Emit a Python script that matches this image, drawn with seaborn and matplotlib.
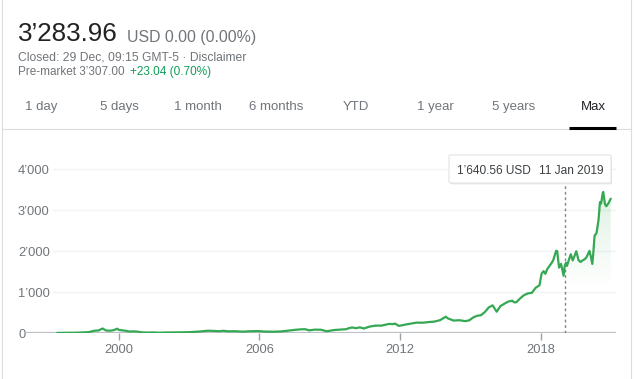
import matplotlib
matplotlib.use("Agg")
import matplotlib.pyplot as plt
import matplotlib.dates as mdates
from matplotlib.patches import FancyBboxPatch
from matplotlib.lines import Line2D
import numpy as np
import pandas as pd
import seaborn as sns

# ---------------- data ----------------
dates = [
    "1997-05-15", "1997-08-15", "1997-12-15", "1998-03-15", "1998-06-15", "1998-09-15",
    "1998-12-15", "1999-01-15", "1999-02-15", "1999-04-25", "1999-06-15", "1999-08-15",
    "1999-10-15", "1999-12-10", "1999-12-31", "2000-02-15", "2000-04-15", "2000-06-15",
    "2000-08-15", "2000-10-15", "2000-12-15", "2001-03-15", "2001-06-15", "2001-09-15",
    "2001-12-15", "2002-06-15", "2002-12-15", "2003-06-15", "2003-10-15", "2003-12-15",
    "2004-04-15", "2004-06-15", "2004-09-15", "2004-12-15", "2005-04-15", "2005-08-15",
    "2005-12-15", "2006-03-15", "2006-08-15", "2006-12-15", "2007-04-15", "2007-07-15",
    "2007-10-15", "2007-12-15", "2008-02-15", "2008-05-15", "2008-08-15", "2008-11-15",
    "2008-12-15", "2009-03-15", "2009-06-15", "2009-09-15", "2009-10-25", "2009-12-15",
    "2010-02-15", "2010-04-15", "2010-06-15", "2010-09-15", "2010-12-15", "2011-03-15",
    "2011-07-15", "2011-09-15", "2011-10-15", "2011-12-15", "2012-03-15", "2012-06-15",
    "2012-09-15", "2012-12-15", "2013-03-15", "2013-06-15", "2013-09-15", "2013-12-15",
    "2014-01-15", "2014-04-15", "2014-07-15", "2014-10-15", "2014-12-15", "2015-02-15",
    "2015-04-15", "2015-06-15", "2015-08-15", "2015-10-15", "2015-12-15", "2016-02-15",
    "2016-04-15", "2016-06-15", "2016-08-15", "2016-10-15", "2016-11-15", "2016-12-15",
    "2017-02-15", "2017-04-15", "2017-06-15", "2017-08-15", "2017-10-15", "2017-12-15",
    "2018-01-15", "2018-02-15", "2018-03-15", "2018-04-15", "2018-05-15", "2018-06-15",
    "2018-07-15", "2018-08-31", "2018-09-15", "2018-10-15", "2018-11-15", "2018-12-24",
    "2019-01-11", "2019-01-31", "2019-02-15", "2019-03-15", "2019-04-15", "2019-05-15",
    "2019-06-15", "2019-07-10", "2019-08-15", "2019-09-15", "2019-10-15", "2019-11-15",
    "2019-12-15", "2020-01-31", "2020-02-20", "2020-03-16", "2020-03-31", "2020-04-20",
    "2020-05-20", "2020-06-20", "2020-07-13", "2020-07-31", "2020-08-25", "2020-09-02",
    "2020-09-30", "2020-10-20", "2020-11-20", "2020-12-29",
]
prices = [
    1.5, 3.5, 5, 7, 14, 20,
    54, 60, 60, 110, 62, 55,
    70, 106, 76, 68, 55, 36,
    40, 34, 16, 10, 14, 6,
    11, 16, 19, 36, 55, 53,
    44, 54, 40, 44, 33, 43,
    47, 36, 31, 39, 62, 78,
    90, 93, 65, 82, 80, 43,
    51, 73, 84, 93, 118, 135,
    118, 138, 109, 157, 180, 180,
    222, 216, 230, 173, 203, 228,
    254, 251, 266, 278, 313, 399,
    358, 304, 312, 290, 310, 380,
    421, 434, 512, 625, 676, 520,
    659, 716, 769, 789, 750, 750,
    845, 925, 968, 980, 1105, 1169,
    1450, 1512, 1447, 1566, 1630, 1700,
    1777, 2012, 2003, 1599, 1690, 1400,
    1640.56, 1718, 1640, 1781, 1926, 1775,
    1894, 2000, 1777, 1736, 1777, 1800,
    1848, 2009, 1884, 1689, 1950, 2380,
    2442, 2758, 3200, 3165, 3420, 3450,
    3149, 3100, 3168, 3283.96,
]
y_ticks = [0, 1000, 2000, 3000, 4000]
y_tick_labels = ["0", "1\u2019000", "2\u2019000", "3\u2019000", "4\u2019000"]
x_tick_years = ["2000", "2006", "2012", "2018"]
tabs = ["1 day", "5 days", "1 month", "6 months", "YTD", "1 year", "5 years", "Max"]
tab_centers = [41.5, 119, 198, 276.5, 355.5, 435, 513.5, 593]
hover_date = "2019-01-11"
hover_text_price = "1\u2019640.56 USD"
hover_text_date = "11 Jan 2019"

df = pd.DataFrame({"date": pd.to_datetime(dates), "price": prices})

# ---------------- style ----------------
sns.set_theme(style="white")
plt.rcParams["font.family"] = ["Liberation Sans", "DejaVu Sans"]

W, H = 636, 379
fig = plt.figure(figsize=(W / 100, H / 100), dpi=100)
fig.patch.set_facecolor("white")

def fx(x):
    return x / W

def fy(y):
    return 1 - y / H

GREEN = "#34a853"
GRAY = "#70757a"

ax_left, ax_right, ax_top, ax_bot = 25, 616, 160, 333
ax = fig.add_axes([fx(ax_left), fy(ax_bot), (ax_right - ax_left) / W, (ax_bot - ax_top) / H])
ax.set_facecolor("white")

ymax = 4230
xlo, xhi = pd.Timestamp("1996-01-01"), pd.Timestamp("2021-03-20")

# gridlines
for yv in y_ticks[1:]:
    ax.axhline(yv, xmin=(53 - ax_left) / (ax_right - ax_left), xmax=1,
               color="#f1f3f4", lw=1, zorder=0)

# baseline
ax.axhline(0, color="#bdc1c6", lw=1.6, zorder=1)

# line
sns.lineplot(data=df, x="date", y="price", ax=ax, color=GREEN, lw=1.6,
             zorder=3, legend=False)

# gradient fill after hover point
hd = pd.Timestamp(hover_date)
sub = df[df["date"] >= hd]
xs = mdates.date2num(sub["date"])
poly = ax.fill_between(xs, 0, sub["price"].values, color="none", lw=0)
grad = np.zeros((100, 2, 4))
top_val = sub["price"].max()
fade_bottom = 1100
ys = np.linspace(top_val, 0, 100)
alpha = np.clip((ys - fade_bottom) / (top_val - fade_bottom), 0, 1) * 0.16
grad[:, :, 0] = 0.204
grad[:, :, 1] = 0.659
grad[:, :, 2] = 0.325
grad[:, :, 3] = alpha[:, None]
im = ax.imshow(grad, extent=[xs.min(), xs.max(), 0, top_val], aspect="auto",
               origin="upper", zorder=2, interpolation="bilinear")
im.set_clip_path(poly.get_paths()[0], transform=ax.transData)
ax.set_xlim(xlo, xhi)
ax.set_ylim(0, ymax)

# hover line
ax.axvline(hd, ymin=0, ymax=(ax_bot - 183) / (ax_bot - ax_top), color="#80868b",
           lw=1, linestyle=(0, (2, 2)), zorder=2)

# ticks
ax.set_yticks(y_ticks)
ax.set_yticklabels(y_tick_labels, ha="left")
ax.tick_params(axis="y", length=0, pad=5, labelsize=9.3, labelcolor=GRAY)
ax.set_xticks([pd.Timestamp(f"{y}-01-01") for y in x_tick_years])
ax.set_xticklabels(x_tick_years)
ax.tick_params(axis="x", direction="out", length=5, width=1, color="#9aa0a6",
               pad=3, labelsize=9.3, labelcolor=GRAY, bottom=True)
for s in ax.spines.values():
    s.set_visible(False)
ax.set_xlabel("")
ax.set_ylabel("")
ax.grid(False)

# ---------------- header ----------------
fig.text(fx(18), fy(41), "3\u2019283.96", fontsize=18.7, color="#222222", va="baseline")
fig.text(fx(127), fy(42), "USD 0.00 (0.00%)", fontsize=11.4, color=GRAY, va="baseline")
fig.text(fx(18), fy(61), "Closed: 29 Dec, 09:15 GMT-5 \u00b7 Disclaimer", fontsize=8.7,
         color=GRAY, va="baseline")
fig.text(fx(18), fy(75), "Pre-market 3\u2019307.00", fontsize=8.5, color=GRAY,
         va="baseline")
fig.text(fx(130), fy(75), "+23.04 (0.70%)", fontsize=8.5, color="#0f9d58", va="baseline")

for t, cx in zip(tabs, tab_centers):
    fig.text(fx(cx), fy(110), t, fontsize=9.5, ha="center", va="baseline",
             color="#202124" if t == "Max" else GRAY)

# divider and active tab underline
fig.add_artist(Line2D([fx(2), fx(631)], [fy(128.5), fy(128.5)], color="#dadce0", lw=0.8,
                      transform=fig.transFigure))
fig.add_artist(Line2D([fx(569), fx(616)], [fy(127.5), fy(127.5)], color="black", lw=2.2,
                      transform=fig.transFigure, solid_capstyle="butt"))
# panel borders
fig.add_artist(Line2D([fx(2), fx(2)], [0, 1], color="#dadce0", lw=0.8,
                      transform=fig.transFigure))
fig.add_artist(Line2D([fx(631), fx(631)], [0, 1], color="#dadce0", lw=0.8,
                      transform=fig.transFigure))

# tooltip
shadow = FancyBboxPatch((fx(450), fy(184.5)), fx(612) - fx(450), fy(156) - fy(184.5),
                        boxstyle="round,pad=0,rounding_size=0.003",
                        transform=fig.transFigure, facecolor="#00000014",
                        edgecolor="none", zorder=9)
fig.add_artist(shadow)
box = FancyBboxPatch((fx(449), fy(183)), fx(611) - fx(449), fy(155) - fy(183),
                     boxstyle="round,pad=0,rounding_size=0.003",
                     transform=fig.transFigure, facecolor="white",
                     edgecolor="#e0e0e0", lw=0.7, zorder=10)
fig.add_artist(box)
fig.text(fx(457), fy(173.5), hover_text_price, fontsize=8.6, color="#3c4043",
         va="baseline", zorder=11)
fig.text(fx(539), fy(173.5), hover_text_date, fontsize=8.6, color="#3c4043",
         va="baseline", zorder=11)

fig.savefig("out.png", dpi=100, facecolor="white")
